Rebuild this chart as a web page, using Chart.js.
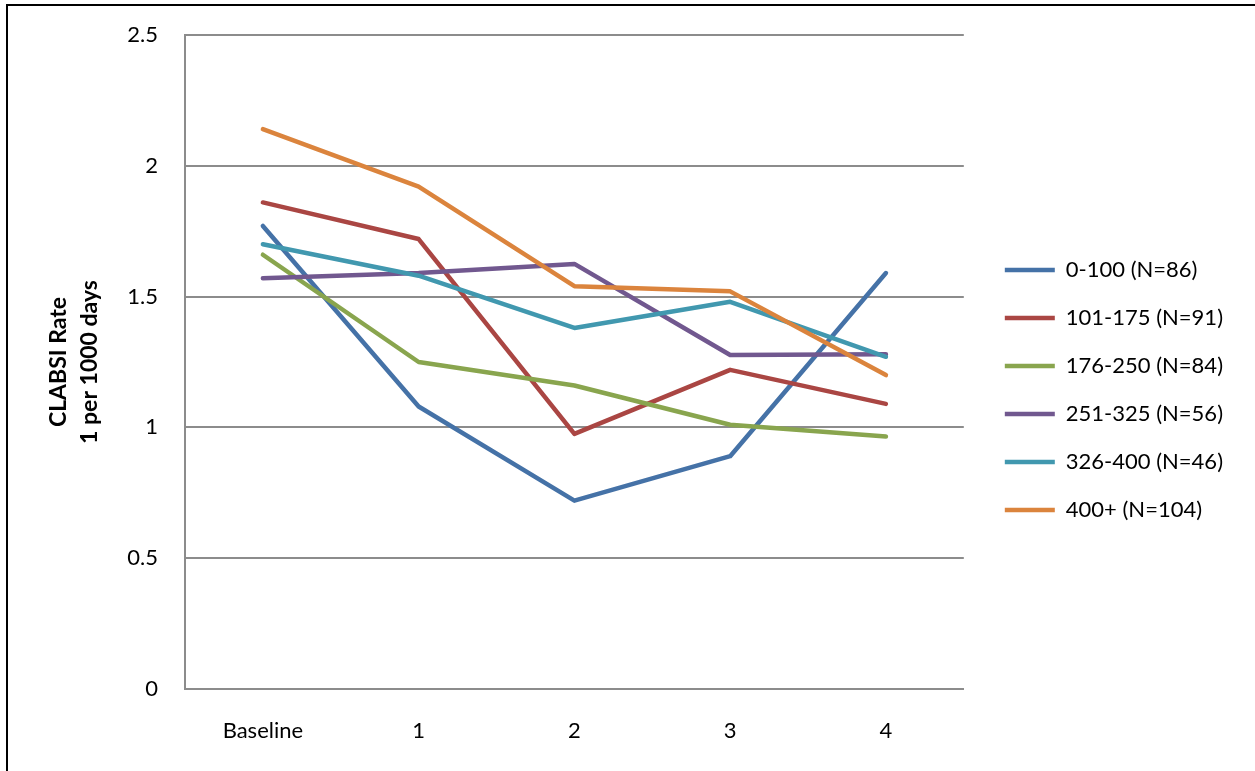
<!DOCTYPE html>
<html lang="en">

<head>
    <meta charset="UTF-8">
    <title>CLABSI Rate</title>
    <script src="https://cdn.jsdelivr.net/npm/chart.js"></script>
    <style>
        body { margin: 0; background: #fff; }
        .frame {
            position: absolute; left: 6px; top: 4px; width: 1260px; height: 780px;
            border-left: 2px solid #000; border-top: 2px solid #000;
        }
        .janela { position: absolute; left: 0; top: 0; width: 1255px; height: 771px; }
    </style>
</head>

<body>
    <div class="frame"></div>
    <div class="janela">
        <canvas id="myChart" width="1255" height="771"></canvas>
    </div>

<script>
    // periodos e series
    const periodos = ['Baseline', '1', '2', '3', '4'];
    const grupos = ['0-100 (N=86)', '101-175 (N=91)', '176-250 (N=84)', '251-325 (N=56)', '326-400 (N=46)', '400+ (N=104)'];
    const serie0a100 = [1.77, 1.08, 0.72, 0.89, 1.59];
    const serie101a175 = [1.86, 1.72, 0.975, 1.22, 1.09];
    const serie176a250 = [1.66, 1.25, 1.16, 1.01, 0.965];
    const serie251a325 = [1.57, 1.59, 1.625, 1.277, 1.28];
    const serie326a400 = [1.70, 1.58, 1.38, 1.48, 1.27];
    const serie400mais = [2.14, 1.92, 1.54, 1.52, 1.20];
    const cores = ['#4572A7', '#AA4643', '#89A54E', '#71588F', '#4198AF', '#DB843D'];

    const series = [serie0a100, serie101a175, serie176a250, serie251a325, serie326a400, serie400mais];

    let dados = {
        labels: periodos,
        datasets: series.map((valores, i) => ({
            label: grupos[i],
            data: valores,
            borderColor: cores[i],
            backgroundColor: cores[i],
            borderWidth: 4.5,
            borderCapStyle: 'round',
            borderJoinStyle: 'round',
            pointRadius: 0,
            tension: 0,
            fill: false,
            order: series.length - i
        }))
    };

    // empurra a legenda um pouco para a direita (espaco entre grafico e legenda)
    const afastarLegenda = {
        id: 'afastarLegenda',
        afterLayout(chart) {
            chart.legend.left += 15;
            chart.legend.right += 15;
        }
    };

    const config = {
        type: 'line',
        data: dados,
        options: {
            responsive: false,
            animation: false,
            layout: { padding: { left: 20, top: 35, right: 37, bottom: 26 } },
            plugins: {
                tooltip: { enabled: false },
                legend: {
                    position: 'right',
                    labels: {
                        usePointStyle: true,
                        pointStyle: 'line',
                        pointStyleWidth: 50,
                        padding: 26,
                        color: '#000',
                        font: { family: 'Lato', size: 22 },
                        sort: (a, b) => a.datasetIndex - b.datasetIndex
                    }
                }
            },
            scales: {
                x: {
                    offset: true,
                    grid: { display: false, drawTicks: false },
                    border: { color: '#8c8c8c', width: 2 },
                    ticks: { color: '#000', padding: 29, font: { family: 'Lato', size: 22 } },
                    afterFit: (s) => { s.height = 56; }
                },
                y: {
                    min: 0,
                    max: 2.5,
                    ticks: {
                        stepSize: 0.5, color: '#000', padding: 8, font: { family: 'Lato', size: 22 },
                        callback: (v) => String(v)
                    },
                    // marcas invisiveis só para afastar os rotulos do eixo
                    grid: { color: '#8c8c8c', lineWidth: 2, drawTicks: true, tickLength: 19, tickColor: 'rgba(0,0,0,0)' },
                    border: { color: '#8c8c8c', width: 2 },
                    title: {
                        display: true,
                        text: ['CLABSI Rate', '1 per 1000 days'],
                        color: '#000',
                        padding: { top: 23 },
                        font: { family: 'Lato', size: 23, weight: 'bold', lineHeight: 1.35 }
                    },
                    afterFit: (s) => { s.width = 165; }
                }
            }
        },
        plugins: [afastarLegenda]
    };

    let myChartP = new Chart(document.getElementById('myChart'), config);
</script>
</body>

</html>
